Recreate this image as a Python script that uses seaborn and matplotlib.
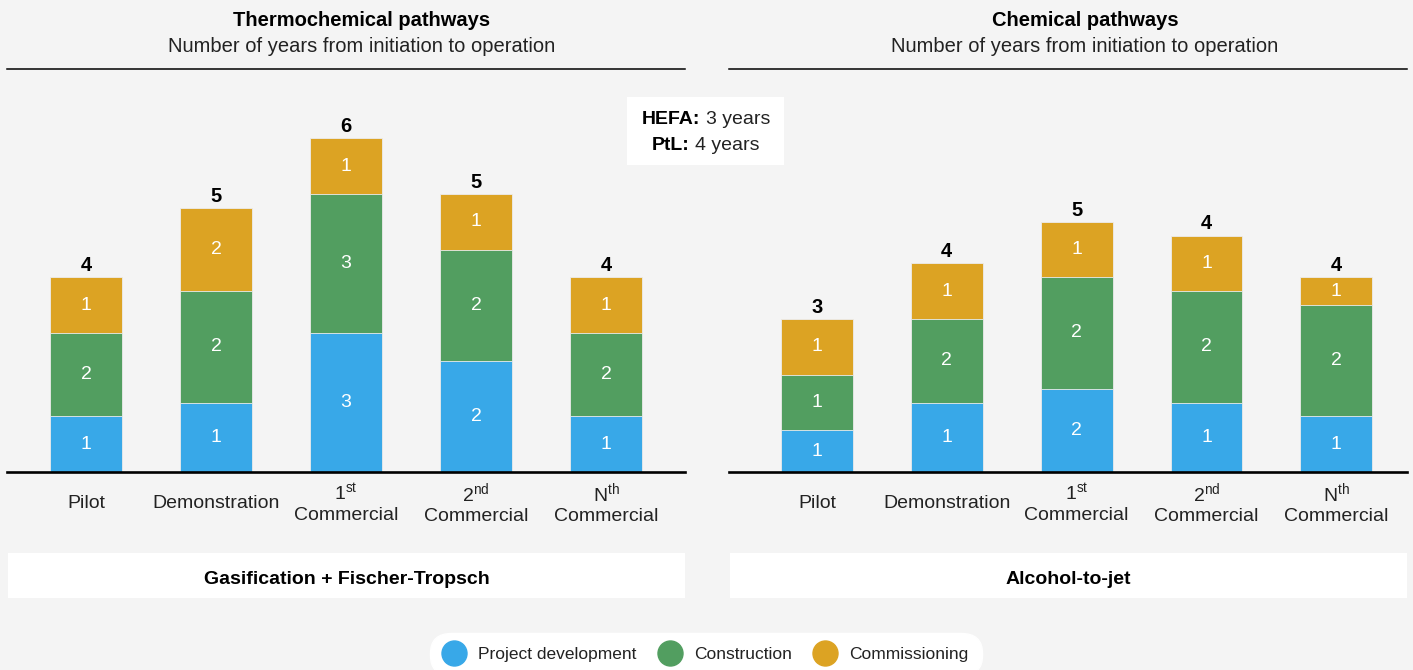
import numpy as np
import pandas as pd
import matplotlib.pyplot as plt
from matplotlib.patches import Rectangle
from matplotlib.lines import Line2D
from matplotlib.offsetbox import TextArea, HPacker, AnnotationBbox
import seaborn as sns

# Stage names (x categories)
stages = ["Pilot", "Demonstration",
          "1$^{\\mathrm{st}}$\nCommercial",
          "2$^{\\mathrm{nd}}$\nCommercial",
          "N$^{\\mathrm{th}}$\nCommercial"]

phases = ["Project development", "Construction", "Commissioning"]

# Thermochemical pathways (Gasification + Fischer-Tropsch), years per phase as drawn
thermo_dev = [1, 1.25, 2.5, 2, 1]
thermo_con = [1.5, 2, 2.5, 2, 1.5]
thermo_com = [1, 1.5, 1, 1, 1]
# numbers printed on the chart
thermo_dev_lbl = ["1", "1", "3", "2", "1"]
thermo_con_lbl = ["2", "2", "3", "2", "2"]
thermo_com_lbl = ["1", "2", "1", "1", "1"]
thermo_total_lbl = ["4", "5", "6", "5", "4"]

# Chemical pathways (Alcohol-to-jet)
chem_dev = [0.75, 1.25, 1.5, 1.25, 1]
chem_con = [1, 1.5, 2, 2, 2]
chem_com = [1, 1, 1, 1, 0.5]
chem_dev_lbl = ["1", "1", "2", "1", "1"]
chem_con_lbl = ["1", "2", "2", "2", "2"]
chem_com_lbl = ["1", "1", "1", "1", "1"]
chem_total_lbl = ["3", "4", "5", "4", "4"]

# note box
note_keys = ["HEFA:", "PtL:"]
note_vals = ["3 years", "4 years"]

DEV = "#38a8e8"
CON = "#529e60"
COM = "#dca323"
BG = "#f4f4f4"

sns.set_theme(style="white")
plt.rcParams["font.family"] = ["Liberation Sans", "DejaVu Sans"]
plt.rcParams["mathtext.fontset"] = "custom"
plt.rcParams["mathtext.rm"] = "Liberation Sans"
plt.rcParams["mathtext.it"] = "Liberation Sans:italic"
plt.rcParams["mathtext.bf"] = "Liberation Sans:bold"

W, H = 1413, 670
def fx(px):
    return px / W
def fy(py):
    return 1 - py / H

fig = plt.figure(figsize=(W / 100, H / 100), dpi=100, facecolor=BG)


def draw_panel(ax, dev, con, com, dev_lbl, con_lbl, com_lbl, total_lbl, xlim):
    df = pd.DataFrame({"stage": stages, "dev": dev, "con": con, "com": com})
    df["c1"] = df["dev"]
    df["c2"] = df["dev"] + df["con"]
    df["c3"] = df["c2"] + df["com"]
    # stacked bars: draw the tallest first, then cover with the lower parts
    for col, colour in [("c3", COM), ("c2", CON), ("c1", DEV)]:
        sns.barplot(data=df, x="stage", y=col, color=colour, saturation=1,
                    width=0.554, linewidth=0.6, edgecolor="#ececec",
                    errorbar=None, ax=ax)
    for i in range(len(df)):
        ax.text(i, df["dev"][i] / 2, dev_lbl[i], ha="center", va="center",
                color="white", fontsize=14)
        ax.text(i, df["c1"][i] + df["con"][i] / 2, con_lbl[i], ha="center",
                va="center", color="white", fontsize=14)
        ax.text(i, df["c2"][i] + df["com"][i] / 2, com_lbl[i], ha="center",
                va="center", color="white", fontsize=14)
        ax.annotate(total_lbl[i], (i, df["c3"][i]), xytext=(0, 4.5),
                    textcoords="offset points", ha="center", va="baseline",
                    fontsize=14.5, fontweight="bold", color="black")
    ax.set_facecolor(BG)
    ax.set_xlim(*xlim)
    ax.set_ylim(0, 403 / 55.6)
    ax.set_xlabel("")
    ax.set_ylabel("")
    ax.set_yticks([])
    ax.set_xticks(range(len(stages)))
    ax.set_xticklabels(stages, fontsize=14, color="#222222")
    for lab in ax.get_xticklabels():
        lab.set_va("center")
    ax.tick_params(axis="x", length=0, pad=22.5)
    for s in ["left", "right"]:
        ax.spines[s].set_visible(False)
    ax.spines["top"].set_color("black")
    ax.spines["top"].set_linewidth(1.1)
    ax.spines["bottom"].set_color("black")
    ax.spines["bottom"].set_linewidth(1.9)


ax1 = fig.add_axes([fx(7), fy(472), (685 - 7) / W, (472 - 69) / H])
draw_panel(ax1, thermo_dev, thermo_con, thermo_com, thermo_dev_lbl,
           thermo_con_lbl, thermo_com_lbl, thermo_total_lbl, (-0.608, 4.608))

ax2 = fig.add_axes([fx(729), fy(472), (1407 - 729) / W, (472 - 69) / H])
draw_panel(ax2, chem_dev, chem_con, chem_com, chem_dev_lbl,
           chem_con_lbl, chem_com_lbl, chem_total_lbl, (-0.677, 4.544))

# headers
for cx, title in [(362, "Thermochemical pathways"), (1085, "Chemical pathways")]:
    fig.text(fx(cx), fy(21), title, ha="center", va="center",
             fontsize=14.5, fontweight="bold", color="black")
    fig.text(fx(cx), fy(46), "Number of years from initiation to operation",
             ha="center", va="center", fontsize=14.5, color="#222222")

# pathway name boxes
for x0, x1, name in [(8, 685, "Gasification + Fischer-Tropsch"),
                     (730, 1407, "Alcohol-to-jet")]:
    fig.patches.append(Rectangle((fx(x0), fy(598)), (x1 - x0) / W, 45 / H,
                                 transform=fig.transFigure, facecolor="white",
                                 edgecolor="none"))
    fig.text(fx((x0 + x1) / 2), fy(579), name, ha="center", va="center",
             fontsize=14, fontweight="bold", color="black")

# HEFA / PtL note
fig.patches.append(Rectangle((fx(627), fy(165)), (784 - 627) / W, 68 / H,
                             transform=fig.transFigure, facecolor="white",
                             edgecolor="none"))
for k, v, py in zip(note_keys, note_vals, [120, 145]):
    box = HPacker(children=[
        TextArea(k, textprops=dict(fontsize=14, fontweight="bold", color="black")),
        TextArea(v, textprops=dict(fontsize=14, color="#222222"))],
        sep=4, align="baseline", pad=0)
    fig.add_artist(AnnotationBbox(box, (fx(706), fy(py)), xycoords="figure fraction",
                                  frameon=False, box_alignment=(0.5, 0.5), pad=0))

# legend
handles = [Line2D([], [], ls="", marker="o", markersize=18, markerfacecolor=c,
                  markeredgecolor=c) for c in [DEV, CON, COM]]
leg = fig.legend(handles, phases, loc="center", bbox_to_anchor=(fx(706), fy(654)),
                 ncol=3, frameon=True, fontsize=12.5, handletextpad=0.8,
                 columnspacing=1.3, borderpad=0.6, handlelength=1.2,
                 facecolor="white", edgecolor="white", framealpha=1)
leg.get_frame().set_boxstyle("round", pad=0.2, rounding_size=1.2)
for t in leg.get_texts():
    t.set_color("#222222")

fig.savefig("out.png", dpi=100, facecolor=BG)
